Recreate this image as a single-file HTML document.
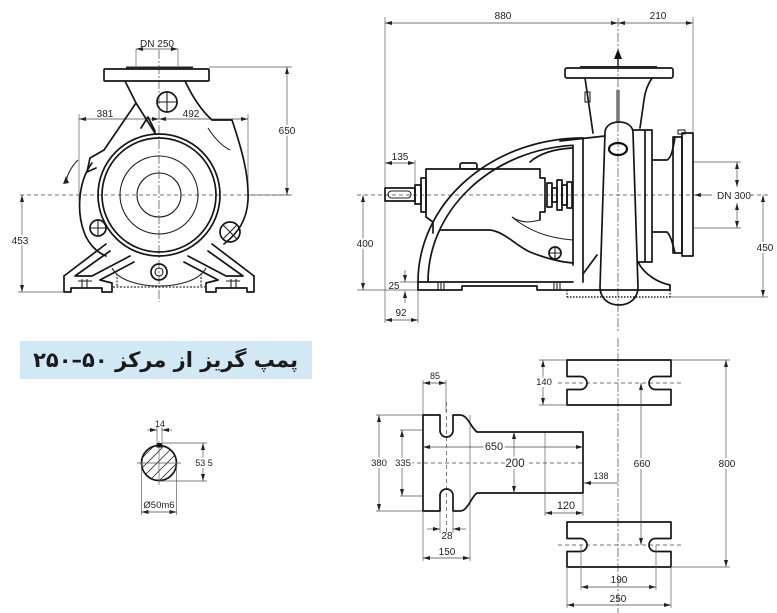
<!DOCTYPE html>
<html><head><meta charset="utf-8">
<style>
html,body{margin:0;padding:0;background:#fff;}
body{width:777px;height:613px;position:relative;overflow:hidden;}
svg{position:absolute;left:0;top:0;}
.k{fill:none;stroke:#151515;stroke-width:1.7;stroke-linejoin:round;stroke-linecap:round;}
.m{fill:none;stroke:#222;stroke-width:1.1;}
.t{fill:none;stroke:#555;stroke-width:0.65;}
.c{fill:none;stroke:#444;stroke-width:0.7;stroke-dasharray:9 2 2 2;}
.dd{fill:none;stroke:#444;stroke-width:0.7;stroke-dasharray:4 3;}
.dim{fill:none;stroke:#444;stroke-width:0.65;marker-start:url(#ar);marker-end:url(#ar);}
.dim1{fill:none;stroke:#444;stroke-width:0.65;marker-end:url(#ar);}
text{font-family:"Liberation Sans",Arial,sans-serif;font-size:10px;fill:#222;text-anchor:middle;}
.h{stroke:#fff;stroke-width:4;paint-order:stroke;}
#title{position:absolute;left:20px;top:341px;width:292px;height:38px;background:#d2e8f5;overflow:hidden;}
#title div{position:absolute;right:14px;top:1px;font-family:"DejaVu Sans",sans-serif;font-weight:bold;font-size:21px;line-height:36px;color:#1a1a1a;white-space:nowrap;}
</style></head><body>
<svg width="777" height="613" viewBox="0 0 777 613" xmlns="http://www.w3.org/2000/svg">
<defs>
<marker id="ar" viewBox="0 0 7 4" refX="7" refY="2" markerWidth="7" markerHeight="4" markerUnits="userSpaceOnUse" orient="auto-start-reverse"><path d="M0,0 L7,2 L0,4 z" fill="#222"/></marker>
<clipPath id="cc"><circle cx="159" cy="463" r="17"/></clipPath>
<g id="foot">
<path class="k" d="M64,276 L106,244 M75,276 L110,251 M75,276 L92,276 M92,276 L130,256 M100,280 L134,262"/>
<path class="k" d="M64,276 L64,292 L71,292 L71,288 L102,288 L102,292 L112,292 L112,283 L100,280"/>
<path class="m" d="M82,279 L82,288 M87,279 L87,288 M78,281 L92,281"/>
</g>
</defs>

<!-- ================= LEFT PUMP (front view) ================= -->
<path class="c" d="M159,50 L159,302"/>
<path class="dd" d="M20,195 L292,195"/>
<path class="t" d="M136,49 L136,66 M178,49 L178,66"/>
<path class="dim" d="M136,49 L178,49"/>
<text x="157" y="47">DN 250</text>
<rect class="k" x="104" y="69" width="105" height="12" rx="1"/>
<rect x="126" y="66.5" width="67" height="2.5" fill="#222"/>
<path class="t" d="M209,67 L292,67 M248,195 L292,195"/>
<path class="dim" d="M287,67 L287,195"/>
<text class="h" x="287" y="134">650</text>
<path class="t" d="M18,292 L64,292"/>
<path class="dim" d="M22,195 L22,292"/>
<text class="h" x="20" y="244">453</text>
<path class="t" d="M79,114 L79,200 M248,114 L248,195"/>
<path class="dim" d="M79,119 L159,119"/>
<path class="dim" d="M159,119 L248,119"/>
<text x="105" y="117">381</text>
<text x="191" y="117">492</text>
<path class="k" d="M125,81 L136,103 L155,133 M136,103 L104,150"/>
<path class="k" d="M141,128 L148,117 L155,131"/>
<path class="k" d="M104,150 L90,158 L87,172 L96,168"/>
<path class="k" d="M92,163 C79,180 76,210 84,232 C88,243 96,252 106,256"/>
<path class="k" d="M185,81 C194,100 203,112 212,120 L232,120 C242,150 249,175 248,200 C247,220 238,233 224,244"/>
<path class="m" d="M208,128 C215,139 222,146 230,150"/>
<path class="m" d="M66,182 Q68,170 78,160"/>
<path d="M63,184 L66,176 L69,183 z" fill="#222"/>
<circle class="k" cx="159" cy="195" r="61"/>
<circle class="k" cx="159" cy="195" r="57"/>
<circle class="m" cx="159" cy="195" r="39"/>
<circle class="m" cx="159" cy="195" r="22"/>
<circle class="k" cx="167" cy="102" r="10"/>
<path class="m" d="M157,102 L177,102 M167,92 L167,112"/>
<circle class="k" cx="98" cy="228" r="8"/>
<path class="m" d="M90,228 L106,228 M98,220 L98,236"/>
<circle class="k" cx="230" cy="232" r="10"/>
<path class="m" d="M223,225 L237,239 M237,225 L223,239"/>
<circle class="k" cx="159" cy="272" r="8"/>
<circle class="m" cx="159" cy="272" r="4"/>
<use href="#foot"/>
<use href="#foot" transform="translate(318,0) scale(-1,1)"/>
<path class="m" d="M112,268 C124,292 194,292 206,268"/>
<path fill="none" stroke="#333" stroke-width="1.2" stroke-dasharray="2 1.5" d="M113,287 L205,287 M117,270 L117,287 M201,270 L201,287"/>

<!-- ================= RIGHT PUMP (side view) ================= -->
<path class="t" d="M385,17 L385,323 M693,17 L693,140"/>
<path class="dim" d="M385,23 L618,23"/>
<path class="dim" d="M618,23 L693,23"/>
<text x="503" y="19">880</text>
<text x="658" y="19">210</text>
<path class="c" d="M618,18 L618,332"/>
<path class="dd" d="M357,195 L693,195 M750,195 L768,195"/>
<path d="M618,67 L618,57" stroke="#111" stroke-width="1.4"/>
<path d="M614,59 L622,59 L618,49 z" fill="#111"/>
<rect class="k" x="565" y="68" width="108" height="10" rx="2"/>
<rect x="580" y="66" width="77" height="2" fill="#222"/>
<path class="k" d="M585,78 L593,133 M652,78 C648,84 645,91 644,100 L640,128"/>
<rect class="m" x="585" y="92" width="5" height="10"/>
<path d="M618,90 L618,122" stroke="#222" stroke-width="3"/>
<path d="M618,90 L618,122" stroke="#fff" stroke-width="0.8"/>
<path class="k" d="M605,133 C605,126 611,122 619,122 C627,122 633,126 633,133 L638,287 C638,298 630,305 619,305 C608,305 600,298 600,287 Z"/>
<ellipse cx="618" cy="149" rx="9" ry="6" fill="none" stroke="#111" stroke-width="2.2"/>
<path class="k" d="M560,141 L605,136 M583,138 L583,282 M597,255 L583,274"/>
<path class="k" d="M633,130 L652,130 L652,262 L638,262 M645,130 L645,262"/>
<path class="k" d="M638,262 C645,276 660,283 670,285 L670,290"/>
<path class="k" d="M652,160 L667,160 C671,158 673,150 675,137 M652,232 L667,232 C671,236 673,245 675,253"/>
<rect class="k" x="673" y="137" width="9" height="116"/>
<rect class="k" x="682" y="133" width="11" height="123"/>
<rect class="m" x="678" y="130" width="7" height="4"/>
<path class="dim1" d="M712,195 L694,195"/>
<text x="717" y="199" style="text-anchor:start">DN 300</text>
<path class="t" d="M693,162 L741,162 M693,228 L741,228"/>
<path class="dim" d="M737,162 L737,187"/>
<path class="dim" d="M737,228 L737,203"/>
<path class="t" d="M670,297 L768,297"/>
<path class="dim" d="M763,195 L763,297"/>
<text class="h" x="765" y="251">450</text>
<path class="t" d="M357,290 L418,290 M400,282 L418,282"/>
<path class="dim" d="M363,195 L363,290"/>
<text class="h" x="365" y="247">400</text>
<path class="dim1" d="M405,270 L405,282"/>
<path class="dim1" d="M405,303 L405,291"/>
<text x="394" y="289">25</text>
<path class="t" d="M418,290 L418,323"/>
<path class="dim" d="M385,320 L418,320"/>
<text x="401" y="316">92</text>
<path class="t" d="M415,160 L415,188"/>
<path class="dim" d="M385,163 L415,163"/>
<text x="400" y="160">135</text>
<rect class="k" x="385" y="188" width="30" height="13"/>
<rect class="m" x="388" y="191" width="23" height="7" rx="3.5"/>
<rect class="k" x="415" y="185" width="6" height="19"/>
<path class="k" d="M421,178 L426,178 L426,212 L421,212 Z"/>
<path class="k" d="M426,169 L540,169 M426,169 L426,217 L433,222 L433,233"/>
<rect class="k" x="460" y="163" width="17" height="6" rx="2"/>
<path class="k" d="M540,169 L540,178 L545,178 L545,212 L540,212 L540,220"/>
<rect class="k" x="547" y="183" width="5" height="24"/>
<rect class="k" x="552" y="188" width="5" height="14"/>
<rect class="k" x="557" y="180" width="5" height="30"/>
<rect class="k" x="562" y="185" width="5" height="20"/>
<rect class="k" x="567" y="182" width="5" height="26"/>
<path class="k" d="M418,282 A165,144 0 0 1 583,138"/>
<path class="k" d="M428,282 A155,137 0 0 1 573,145.3 L573,265"/>
<path class="k" d="M530,162 C540,153 555,149 572,148"/>
<path class="k" d="M440,230 L490,230 C505,232 515,245 530,252 C545,258 560,262 573,263"/>
<path class="m" d="M512,217 C525,228 545,238 573,240"/>
<path class="m" d="M540,220 C532,222 522,224 512,217"/>
<path class="k" d="M418,282 L573,282 M418,282 L418,290 L462,290 L462,286 L537,286 L537,290 L670,290"/>
<path class="m" d="M438,283 L438,290 M441,283 L441,290 M444,283 L444,290 M554,283 L554,290 M557,283 L557,290 M560,283 L560,290"/>
<circle class="k" cx="555" cy="253" r="6"/>
<path class="m" d="M549,253 L561,253 M555,247 L555,259"/>
<path fill="none" stroke="#222" stroke-width="1.4" stroke-dasharray="1.5 1.5" d="M567,297 L670,297 M567,290 L567,297 M670,290 L670,297"/>

<!-- ================= SHAFT SECTION ================= -->
<g clip-path="url(#cc)" stroke="#333" stroke-width="0.8">
<path d="M130,470 L170,430 M135,475 L175,435 M140,480 L180,440 M145,485 L185,445 M150,490 L190,450 M125,465 L165,425 M120,460 L160,420 M115,455 L155,415 M155,495 L195,455"/>
</g>
<circle class="k" cx="159" cy="463" r="17.5"/>
<path class="t" d="M137,463 L181,463 M159,441 L159,485"/>
<rect x="156.5" y="443" width="5.5" height="4.5" fill="#111"/>
<path class="t" d="M157,427 L157,445 M162,427 L162,445"/>
<path class="dim1" d="M147,430 L157,430"/>
<path class="dim1" d="M172,430 L162,430"/>
<text x="160" y="427" style="font-size:9px">14</text>
<path class="t" d="M162,443 L207,443 M159,481 L207,481"/>
<path class="dim" d="M203,443 L203,481"/>
<text class="h" x="204" y="466" style="font-size:9px">53 5</text>
<path class="t" d="M141.5,463 L141.5,515 M176.5,463 L176.5,515"/>
<path class="dim" d="M141.5,512 L176.5,512"/>
<text x="159" y="508" style="font-size:9.5px">Ø50m6</text>

<!-- ================= BASE PEDESTAL PART ================= -->
<path class="t" d="M400,430 L423,430 M400,496 L423,496 M376,415 L423,415 M376,511 L423,511"/>
<path class="dd" d="M410,463 L583,463"/>
<path class="dd" d="M446.5,402 L446.5,532"/>
<path class="t" d="M470,415 L470,561 M545,432 L545,516 M583,493 L583,516 M423,380 L423,415 M446,380 L446,412 M423,511 L423,561 M440,511 L440,533 M453,511 L453,533"/>
<path class="k" d="M423,415 L440,415 L440,430.5 A6.5,6.5 0 0 0 453,430.5 L453,415 L460,415 C468,415 471,428 477,432 L583,432 L583,493 L477,493 C471,497 468,511 460,511 L453,511 L453,495.5 A6.5,6.5 0 0 0 440,495.5 L440,511 L423,511 Z"/>
<path class="dim" d="M423,383 L446,383"/>
<text x="435" y="379" style="font-size:9px">85</text>
<path class="dim" d="M379,415 L379,511"/>
<text class="h" x="379" y="466" style="font-size:9.5px">380</text>
<path class="dim" d="M402,430 L402,496"/>
<text class="h" x="403" y="466" style="font-size:9.5px">335</text>
<path class="dim" d="M423,447 L583,447"/>
<text class="h" x="494" y="450" style="font-size:11px">650</text>
<path class="dim" d="M514,432 L514,493"/>
<text class="h" x="515" y="467" style="font-size:11.5px">200</text>
<path class="dim" d="M545,513 L583,513"/>
<text x="566" y="509" style="font-size:11px">120</text>
<path class="dim1" d="M618,483 L584,483"/>
<text x="601" y="479" style="font-size:9px">138</text>
<path class="dim1" d="M427,529 L440,529"/>
<path class="dim1" d="M466,529 L453,529"/>
<text x="447" y="539">28</text>
<path class="dim" d="M423,558 L470,558"/>
<text x="447" y="555">150</text>

<!-- ================= PLATES ================= -->
<path class="c" d="M618,338 L618,613"/>
<path class="dd" d="M558,383 L682,383 M558,545 L682,545"/>
<path class="k" d="M567,360 L671,360 L671,376.5 L655.5,376.5 A6.5,6.5 0 0 0 655.5,389.5 L671,389.5 L671,405 L567,405 L567,389.5 L580.5,389.5 A6.5,6.5 0 0 0 580.5,376.5 L567,376.5 Z"/>
<path class="k" d="M567,522 L671,522 L671,538.5 L655.5,538.5 A6.5,6.5 0 0 0 655.5,551.5 L671,551.5 L671,567 L567,567 L567,551.5 L580.5,551.5 A6.5,6.5 0 0 0 580.5,538.5 L567,538.5 Z"/>
<path class="t" d="M539,360 L567,360 M539,405 L567,405"/>
<path class="dim" d="M543,360 L543,405"/>
<text class="h" x="544" y="385" style="font-size:9.5px">140</text>
<path class="dim" d="M641,383 L641,545"/>
<text class="h" x="642" y="467">660</text>
<path class="t" d="M671,360 L730,360 M671,567 L730,567"/>
<path class="dim" d="M726,360 L726,567"/>
<text class="h" x="727" y="467">800</text>
<path class="t" d="M581,545 L581,590 M656,545 L656,590 M567,567 L567,608 M671,567 L671,608"/>
<path class="dim" d="M581,587 L656,587"/>
<text x="619" y="583">190</text>
<path class="dim" d="M567,605 L671,605"/>
<text x="618" y="602">250</text>
</svg>
<div id="title"><div dir="rtl">پمپ گریز از مرکز <span dir="ltr" style="unicode-bidi:isolate">۲۵۰–۵۰</span></div></div>
</body></html>
